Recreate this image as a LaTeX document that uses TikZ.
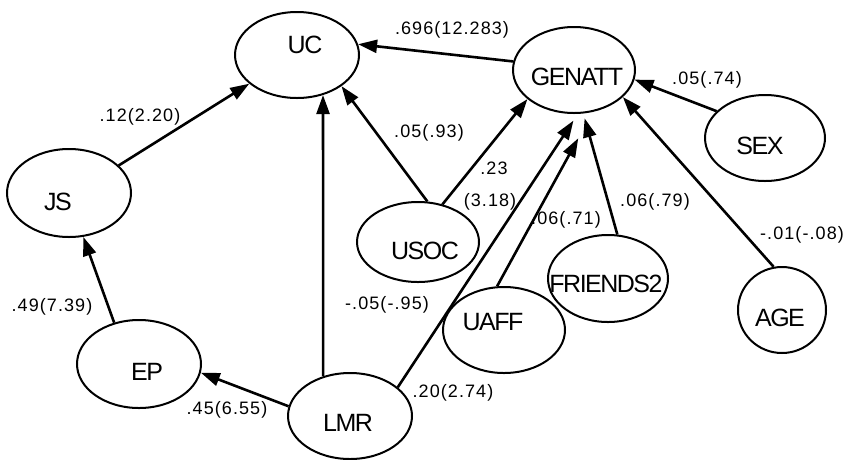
\documentclass[tikz,border=0pt]{standalone}
\usepackage{fontspec}
\setmainfont{Liberation Sans}
\newfontfamily\labfont[LetterSpace=6]{Liberation Sans}
\newfontfamily\nmfont[LetterSpace=-6]{Liberation Sans}
\usetikzlibrary{shapes.geometric,arrows.meta}
\tikzset{
  ell/.style={draw, ellipse, line width=2pt, inner sep=0pt},
  nm/.style={inner sep=0pt, font=\nmfont\fontsize{25}{27}\selectfont},
  lab/.style={inner sep=0pt, font=\labfont\fontsize{18}{20}\selectfont},
  arr/.style={line width=2.6pt, -{Triangle[length=19pt,width=13pt]}}
}
\begin{document}
\begin{tikzpicture}[x=1pt,y=-1pt]
\useasboundingbox (0,0) rectangle (851,459);
% ellipses
\node[ell, minimum width=124pt, minimum height=86pt] (uc) at (297,55) {};
\node[ell, minimum width=122pt, minimum height=86pt] (gen) at (574,70) {};
\node[ell, minimum width=120pt, minimum height=86pt] (sex) at (765,138) {};
\node[ell, minimum width=124pt, minimum height=88pt] (js) at (69,193) {};
\node[ell, minimum width=122pt, minimum height=80pt] (usoc) at (418,242) {};
\node[ell, minimum width=120pt, minimum height=87pt] (fr) at (608,278.5) {};
\node[ell, minimum width=122pt, minimum height=86pt] (uaff) at (504,330) {};
\node[ell, minimum width=88pt, minimum height=86pt] (age) at (782,310) {};
\node[ell, minimum width=124pt, minimum height=88pt] (ep) at (139,364) {};
\node[ell, minimum width=124pt, minimum height=86pt] (lmr) at (350,416) {};
% names
\node[nm] (uct) at (305,45) {UC};
\node[nm] (gent) at (577,77) {GENATT};
\node[nm] (sext) at (760,146) {SEX};
\node[nm] (jst) at (58,202) {JS};
\node[nm] (usoct) at (425,251) {USOC};
\node[nm] (frt) at (606,284) {FRIENDS2};
\node[nm] (uafft) at (493,322) {UAFF};
\node[nm] (aget) at (780,318) {AGE};
\node[nm] (ept) at (147,372) {EP};
\node[nm] (lmrt) at (348,423) {LMR};
% connectors
\draw[arr] (gen.172.6) -- (uc.10);
\draw[arr] (js.29.5) -- (uc.211.5);
\draw[arr] (lmr.124.9) -- (uc.303.7);
\draw[arr] (usoc.77.3) -- (uc.325.5);
\draw[arr] (usoc.57.3) -- (gen.212.5);
\draw[arr, shorten >=8pt] (lmr.31) -- (gen.275);
\draw[arr, shorten >=30pt] (uaff.99.2) -- (gen.294.6);
\draw[arr, shorten >=5pt] (fr.78.3) -- (gen.282);
\draw[arr] (sex.151.6) -- (gen.351);
\draw[arr] (age.101.8) -- (gen.331);
\draw[arr] (ep.121.8) -- (js.288.8);
\draw[arr] (lmr.171.5) -- (ep.352.6);
% labels
\node[lab] (l1) at (452,30) {.696(12.283)};
\node[lab] (l2) at (140,117) {.12(2.20)};
\node[lab] (l3) at (429,133) {.05(.93)};
\node[lab] (l4) at (494,168) {.23};
\node[lab] (l5) at (490,202) {(3.18)};
\node[lab] (l6) at (566,220) {.06(.71)};
\node[lab] (l7) at (655,202) {.06(.79)};
\node[lab] (l8) at (707,80) {.05(.74)};
\node[lab] (l9) at (802,235) {-.01(-.08)};
\node[lab] (l10) at (387,305) {-.05(-.95)};
\node[lab] (l11) at (453,393) {.20(2.74)};
\node[lab] (l12) at (52,307) {.49(7.39)};
\node[lab] (l13) at (227,410) {.45(6.55)};
\end{tikzpicture}
\end{document}
